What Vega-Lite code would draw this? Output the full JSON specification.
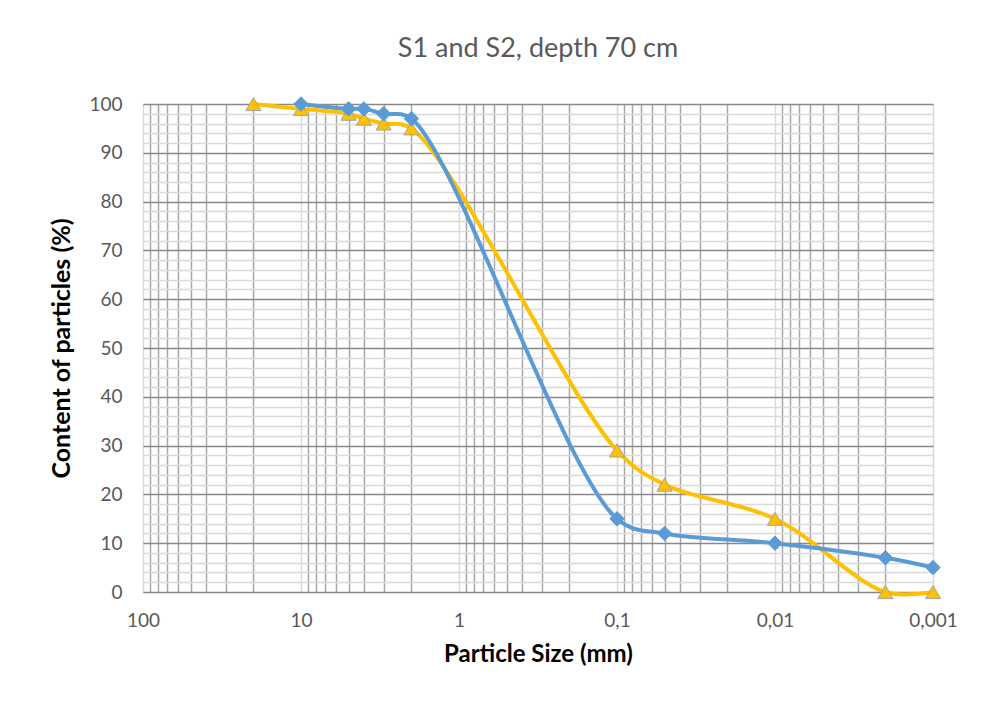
{
  "$schema": "https://vega.github.io/schema/vega-lite/v6.json",
  "width": 790,
  "height": 488,
  "autosize": {"type": "none"},
  "padding": {"top": 104, "left": 143, "right": 49, "bottom": 115},
  "background": "white",
  "title": {
    "text": "S1 and S2, depth 70 cm",
    "font": "Lato",
    "fontSize": 27,
    "fontWeight": "normal",
    "color": "#595959",
    "anchor": "middle",
    "offset": 32
  },
  "config": {
    "view": {"stroke": "#a6a6a6", "strokeWidth": 1},
    "axis": {"labelFont": "Lato", "titleFont": "Lato", "labelColor": "#595959", "labelFontSize": 19, "titleFontWeight": "bold", "titleColor": "#000000"}
  },
  "data": {
    "values": [
      {"size": 20, "pct": 100, "series": "S2"},
      {"size": 10, "pct": 99, "series": "S2"},
      {"size": 5, "pct": 98, "series": "S2"},
      {"size": 4, "pct": 97, "series": "S2"},
      {"size": 3, "pct": 96, "series": "S2"},
      {"size": 2, "pct": 95, "series": "S2"},
      {"size": 0.1, "pct": 29, "series": "S2"},
      {"size": 0.05, "pct": 22, "series": "S2"},
      {"size": 0.01, "pct": 15, "series": "S2"},
      {"size": 0.002, "pct": 0, "series": "S2"},
      {"size": 0.001, "pct": 0, "series": "S2"},
      {"size": 10, "pct": 100, "series": "S1"},
      {"size": 5, "pct": 99, "series": "S1"},
      {"size": 4, "pct": 99, "series": "S1"},
      {"size": 3, "pct": 98, "series": "S1"},
      {"size": 2, "pct": 97, "series": "S1"},
      {"size": 0.1, "pct": 15, "series": "S1"},
      {"size": 0.05, "pct": 12, "series": "S1"},
      {"size": 0.01, "pct": 10, "series": "S1"},
      {"size": 0.002, "pct": 7, "series": "S1"},
      {"size": 0.001, "pct": 5, "series": "S1"}
    ]
  },
  "encoding": {
    "x": {
      "field": "size",
      "type": "quantitative",
      "scale": {"type": "log", "domain": [0.001, 100], "reverse": true, "nice": false},
      "axis": {
        "title": "Particle Size (mm)",
        "titleFontSize": 24,
        "titlePadding": 12,
        "values": [100, 90, 80, 70, 60, 50, 40, 30, 20, 10, 9, 8, 7, 6, 5, 4, 3, 2, 1, 0.9, 0.8, 0.7, 0.6, 0.5, 0.4, 0.3, 0.2, 0.1, 0.09, 0.08, 0.07, 0.06, 0.05, 0.04, 0.03, 0.02, 0.01, 0.009, 0.008, 0.007, 0.006, 0.005, 0.004, 0.003, 0.002, 0.001],
        "labelExpr": "abs(log(datum.value)/LN10 - round(log(datum.value)/LN10)) < 0.0001 ? replace(toString(datum.value), '.', ',') : ''",
        "labelOverlap": false,
        "labelFlush": false,
        "labelPadding": 19,
        "ticks": false,
        "domain": false,
        "grid": true,
        "gridWidth": 1.5,
        "gridColor": {"condition": {"test": "abs(log(datum.value)/LN10 - round(log(datum.value)/LN10)) < 0.0001", "value": "#d9d9d9"}, "value": "#a6a6a6"}
      }
    },
    "y": {
      "field": "pct",
      "type": "quantitative",
      "scale": {"domain": [0, 100], "nice": false},
      "axis": {
        "title": "Content of particles (%)",
        "titleFontSize": 25,
        "titlePadding": 14,
        "values": [0, 2, 4, 6, 8, 10, 12, 14, 16, 18, 20, 22, 24, 26, 28, 30, 32, 34, 36, 38, 40, 42, 44, 46, 48, 50, 52, 54, 56, 58, 60, 62, 64, 66, 68, 70, 72, 74, 76, 78, 80, 82, 84, 86, 88, 90, 92, 94, 96, 98, 100],
        "labelExpr": "datum.value % 10 == 0 ? datum.label : ''",
        "labelOverlap": false,
        "labelPadding": 21,
        "ticks": false,
        "domain": false,
        "grid": true,
        "gridWidth": 1.5,
        "gridColor": {"condition": {"test": "datum.value % 10 == 0", "value": "#898989"}, "value": "#d9d9d9"}
      }
    }
  },
  "layer": [
    {
      "transform": [{"filter": "datum.series == 'S2'"}],
      "mark": {"type": "line", "interpolate": "catmull-rom", "color": "#FFC000", "strokeWidth": 4}
    },
    {
      "transform": [{"filter": "datum.series == 'S2'"}],
      "mark": {"type": "point", "shape": "triangle-up", "filled": true, "fill": "#FFC000", "stroke": "#a5a5a5", "strokeWidth": 1, "size": 230, "opacity": 1}
    },
    {
      "transform": [{"filter": "datum.series == 'S1'"}],
      "mark": {"type": "line", "interpolate": "catmull-rom", "color": "#5B9BD5", "strokeWidth": 4}
    },
    {
      "transform": [{"filter": "datum.series == 'S1'"}],
      "mark": {"type": "point", "shape": "diamond", "filled": true, "fill": "#5B9BD5", "stroke": "#5B9BD5", "strokeWidth": 1, "size": 210, "opacity": 1}
    }
  ]
}
